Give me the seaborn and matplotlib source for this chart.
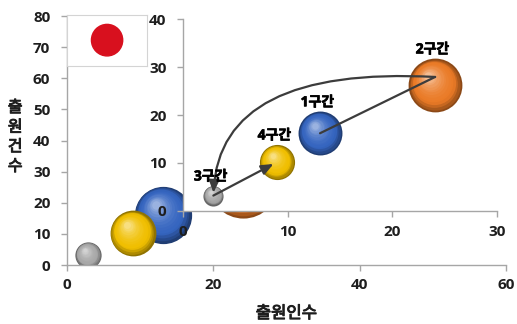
import numpy as np
import pandas as pd
import seaborn as sns
import matplotlib.pyplot as plt
import matplotlib.patheffects as pe
from matplotlib.patches import Ellipse
from matplotlib.colors import to_rgb
from matplotlib.transforms import ScaledTranslation

# data
labels = ["1구간", "2구간", "3구간", "4구간"]
applicants = [13.1, 24.1, 2.9, 9.0]       # 출원인수
applications = [16.2, 26.2, 3.2, 10.2]    # 출원건수
bubble = [1000, 1500, 210, 640]
colors = ["#3565c0", "#ea7a26", "#a8a8a8", "#f0bf00"]
flow = [(0, 1), (1, 2), (2, 3)]

main_xticks = [0, 20, 40, 60]
main_yticks = [0, 10, 20, 30, 40, 50, 60, 70, 80]
inset_xticks = [0, 10, 20, 30]
inset_yticks = [0, 10, 20, 30, 40]

df = pd.DataFrame({"label": labels, "x": applicants, "y": applications,
                   "bubble": bubble, "color": colors})

sns.set_theme(style="white")
plt.rcParams['font.family'] = ['Open Sans', 'Noto Sans CJK KR', 'DejaVu Sans']
plt.rcParams['font.weight'] = 'bold'
plt.rcParams['axes.unicode_minus'] = False

AXIS_GRAY = "#a6a6a6"
TEXT = "#1e1e1e"
BOLDEN = [pe.withStroke(linewidth=0.7, foreground=TEXT)]


def draw_bubbles(ax, data, scale):
    fig = ax.figure
    n = 14
    for _, row in data.iterrows():
        base = np.array(to_rgb(row["color"]))
        dark = base * 0.6
        light = base + (1 - base) * 0.5
        s0 = row["bubble"] * scale
        r_in = np.sqrt(s0) / 2 / 72
        for i in range(n):
            t = i / (n - 1)
            f = 1 - 0.85 * t
            if t < 0.25:
                col = dark + (base - dark) * (t / 0.25)
            else:
                col = base + (light - base) * ((t - 0.25) / 0.75) ** 1.8
            off = ScaledTranslation(-0.25 * r_in * t, 0.35 * r_in * t,
                                    fig.dpi_scale_trans)
            sns.scatterplot(x=[row["x"]], y=[row["y"]], s=s0 * f * f,
                            color=tuple(np.clip(col, 0, 1)), linewidth=0,
                            ax=ax, legend=False, zorder=2,
                            transform=ax.transData + off)


def style_axes(ax, xticks, yticks, xpad, ypad):
    sns.despine(ax=ax)
    for side in ["left", "bottom"]:
        ax.spines[side].set_color(AXIS_GRAY)
        ax.spines[side].set_linewidth(1.0)
    ax.set_xlim(xticks[0], xticks[-1])
    ax.set_ylim(yticks[0], yticks[-1])
    ax.set_xticks(xticks)
    ax.set_yticks(yticks)
    ax.tick_params(axis="x", bottom=True, length=4, width=1, color=AXIS_GRAY,
                   labelsize=11, labelcolor=TEXT, pad=xpad)
    ax.tick_params(axis="y", left=True, length=4, width=1, color=AXIS_GRAY,
                   labelsize=11, labelcolor=TEXT, pad=ypad)
    ax.set_xlabel("")
    ax.set_ylabel("")


fig = plt.figure(figsize=(5.17, 3.24), dpi=100)

# main chart
ax = fig.add_axes([0.1296, 0.182, 0.849, 0.7686])
style_axes(ax, main_xticks, main_yticks, 5.5, 8)
ax.patch.set_alpha(0)
draw_bubbles(ax, df, 1.7)
ax.set_xlabel("출원인수", fontsize=12, color=TEXT, path_effects=BOLDEN)
ax.xaxis.set_label_coords(0.5, -0.165)
ax.set_ylabel("출\n원\n건\n수", fontsize=11.5, color=TEXT, rotation=0,
              ha="center", va="center", linespacing=1.3, path_effects=BOLDEN)
ax.yaxis.set_label_coords(-0.118, 0.512)

# flag box
fax = fig.add_axes([0.1296, 0.796, 0.155, 0.157])
fax.set_xticks([])
fax.set_yticks([])
for sp in fax.spines.values():
    sp.set_color("#d4d4d4")
    sp.set_linewidth(0.8)
fax.add_patch(Ellipse((0.5, 0.51), 0.39, 0.62, transform=fax.transAxes,
                      color="#d8101e"))

# inset chart
iax = fig.add_axes([0.354, 0.349, 0.607, 0.592])
style_axes(iax, inset_xticks, inset_yticks, 6, 8)
iax.set_facecolor("white")
draw_bubbles(iax, df, 1.0)

# flow arrows (the turn at 2구간 sits a little above the bubble centre)
arrow_col = "#3c3c3c"
turn = iax.transData + ScaledTranslation(0, 6 / 72, fig.dpi_scale_trans)
for a, b in flow:
    start = (applicants[a], applications[a])
    end = (applicants[b], applications[b])
    if (a, b) == (0, 1):
        props = dict(arrowstyle="-", color=arrow_col, lw=1.6,
                     shrinkA=0, shrinkB=0)
        iax.annotate("", xy=end, xycoords=turn, xytext=start,
                     textcoords="data", arrowprops=props, zorder=5)
    elif (a, b) == (1, 2):
        props = dict(arrowstyle="-|>,head_length=0.6,head_width=0.25",
                     color=arrow_col, lw=1.6, shrinkA=0, shrinkB=2,
                     connectionstyle="angle3,angleA=177,angleB=88")
        iax.annotate("", xy=end, xycoords="data", xytext=start,
                     textcoords=turn, arrowprops=props, zorder=5)
    else:
        props = dict(arrowstyle="-|>,head_length=0.6,head_width=0.25",
                     color=arrow_col, lw=1.6, shrinkA=0, shrinkB=3)
        iax.annotate("", xy=end, xytext=start, arrowprops=props, zorder=5)

# bubble labels
for lab, x, y, s in zip(labels, applicants, applications, bubble):
    r_pt = np.sqrt(s) / 2
    iax.annotate(lab, xy=(x, y), xytext=(-2, r_pt + 6.5),
                 textcoords="offset points", ha="center", va="center",
                 fontsize=10, color="black", zorder=6,
                 path_effects=[pe.withStroke(linewidth=0.5, foreground="black")])

fig.savefig("out.png", dpi=100)
